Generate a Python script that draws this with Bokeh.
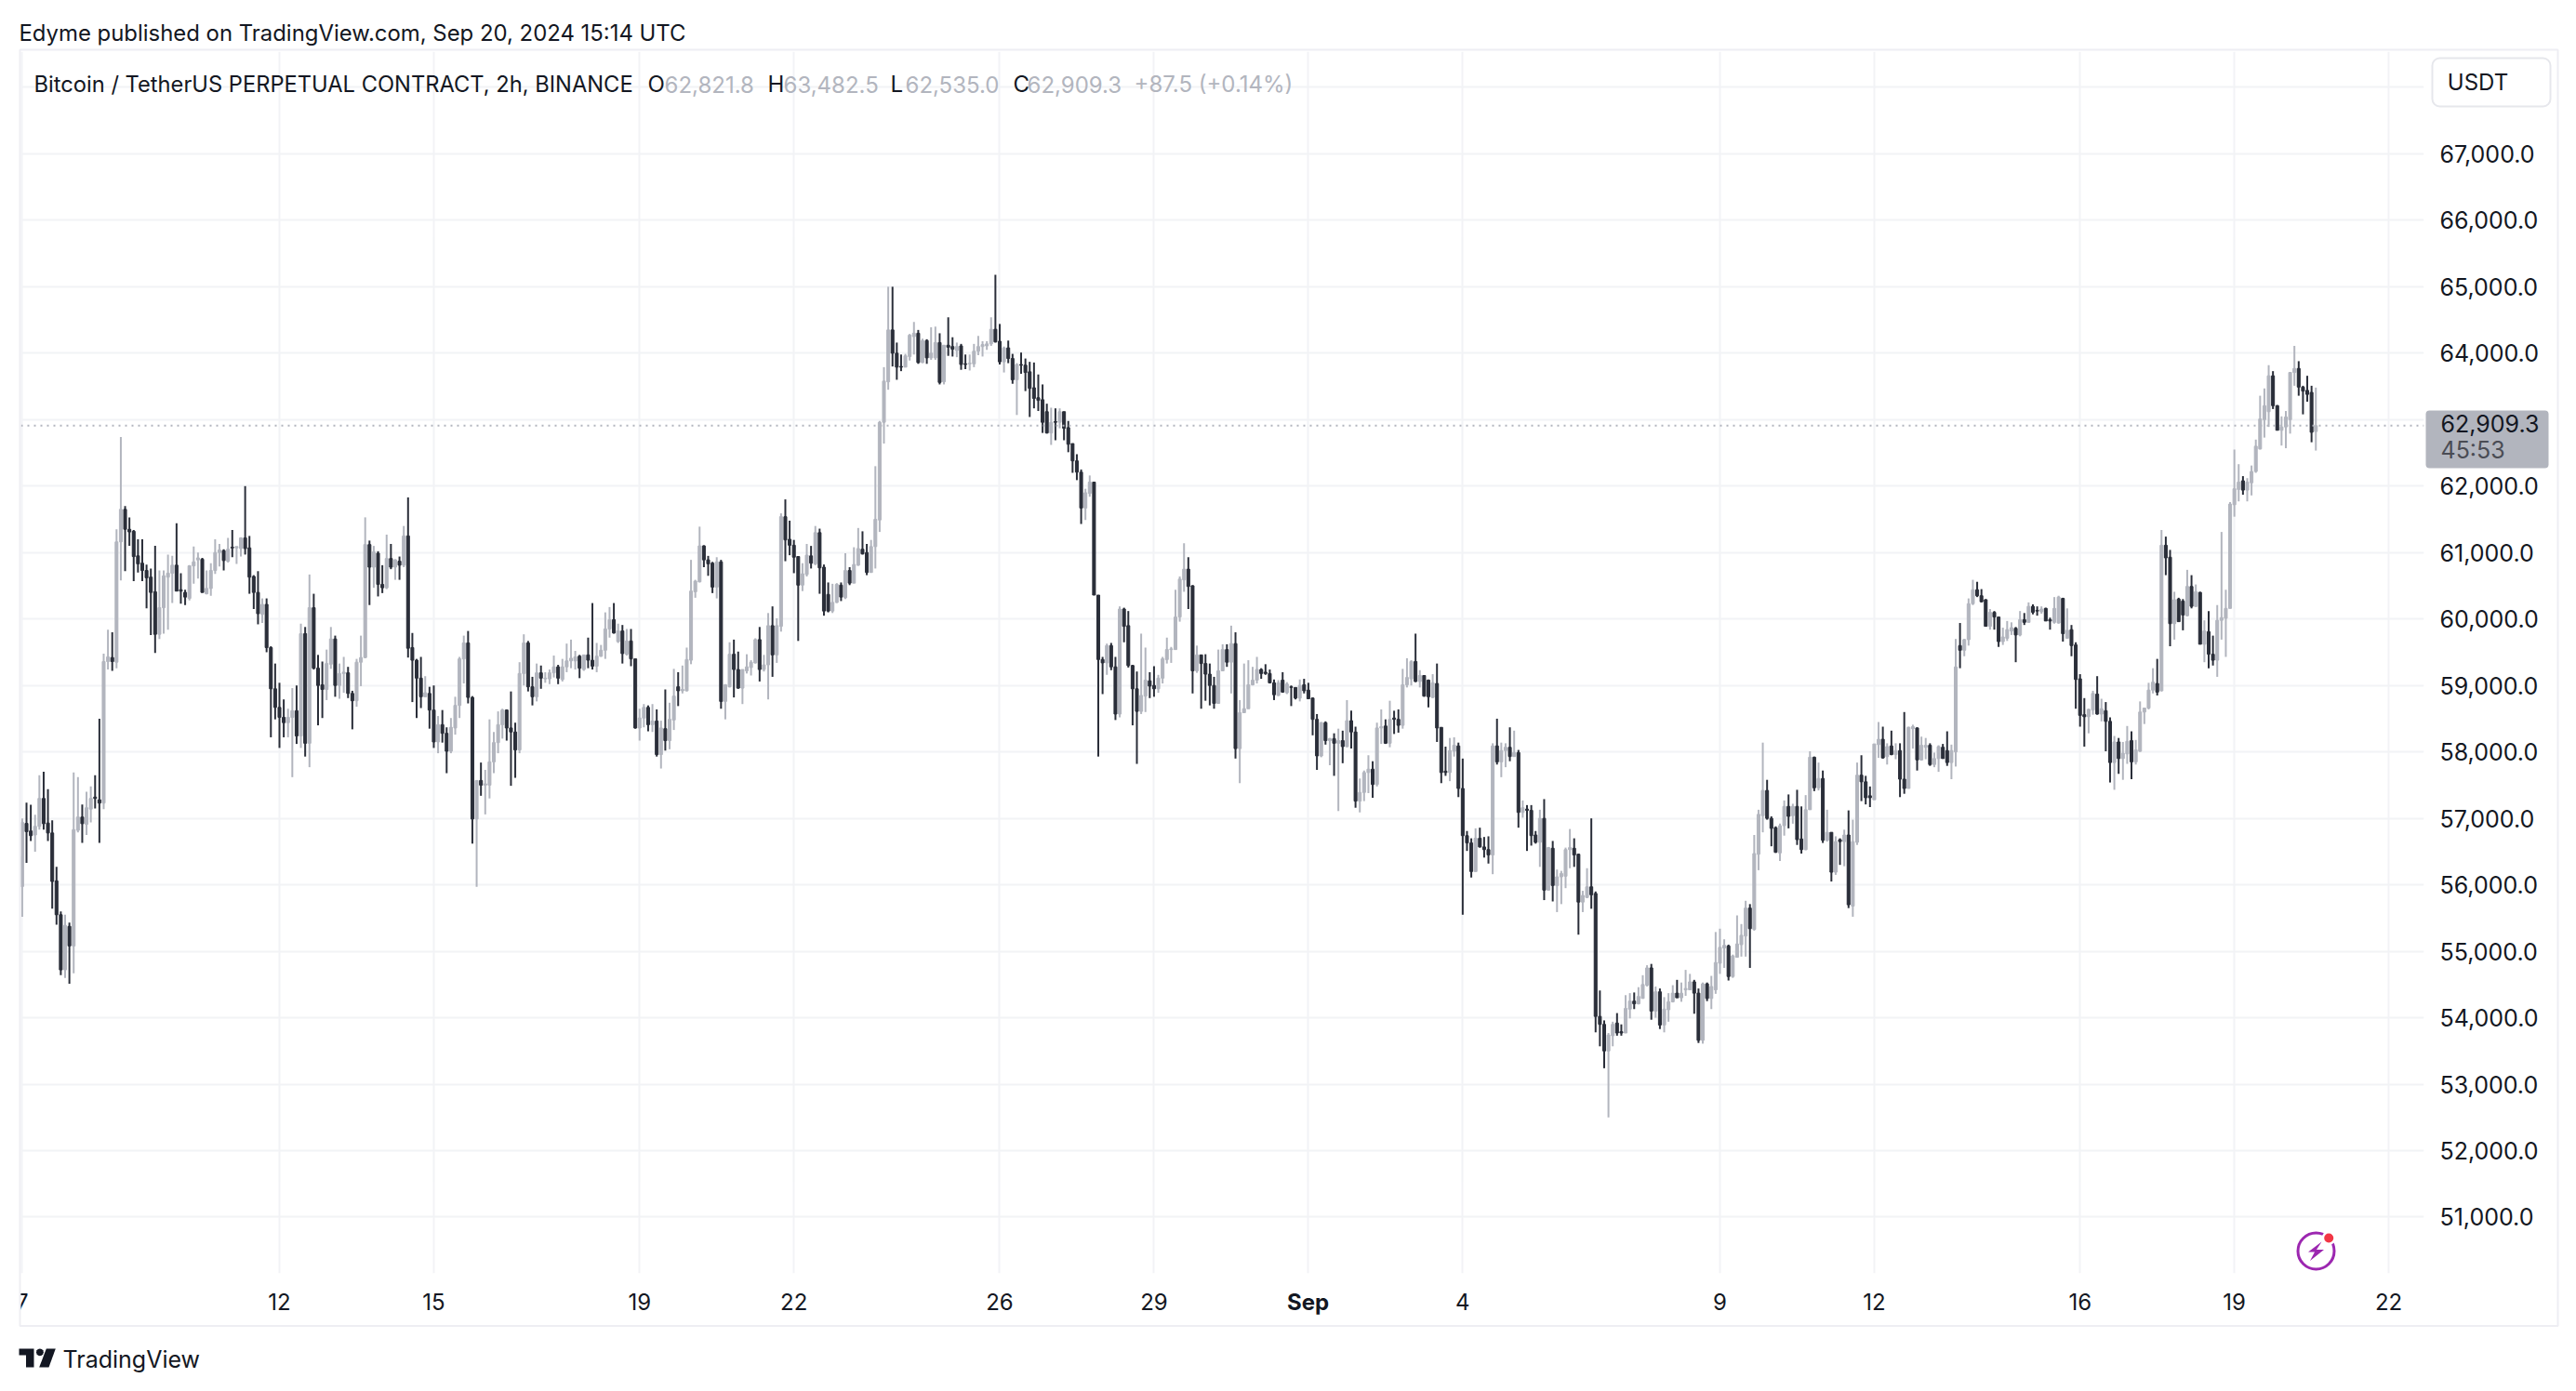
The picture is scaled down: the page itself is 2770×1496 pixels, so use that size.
from bokeh.plotting import figure
from bokeh.embed import file_html
from bokeh.resources import INLINE
from bokeh.models import (Range1d, LinearAxis, FixedTicker, Label, BoxAnnotation, Span, PolyAnnotation, ColumnDataSource)
import math

# U = close above open (grey), D = close below open (dark)
direction = (
 "UUDDUUDDDD" "DUDUUDUUDD" "UUDUUDDDDD" "DDDUUUUDDD" "UUUDUUUUDU" "DUUDDDDUDD" "DDDUUDUDUD" "DDUUDUUDDU"
 "UUDUDDUDUD" "UDDDDUDDUD" "DUUUUDDUDU" "UUUUDDDUUD" "DUDUUUDUUU" "UDUDDUUUUD" "UDUDDUUD"
 "UDUDUUDUUU" "UUDDDUDUUD" "DUUUUDUUDU" "UDDDDUUDUD" "DDUUDUDUUD" "DUUUUUDDDU" "UUDUDUUDUD" "DUDDUUUUUU"
 "DDUDDUDDDD" "DDDUDUDDDD" "DUUDDDUDDU" "DDDDUUDDUU" "UUUUUDDUDD" "DDUUDUDUUU" "UUDDDDUDUD" "DU"
 "DDDDUDUDUD" "UDDUUUDUUD" "UDDUUUDUDD" "UDDDUUDDDD" "UDDDUDUUDU" "DUDDDUDUDU" "UUUDDUUDDD" "DUUDDUUDUU"
 "UDUDUUUDUU" "UDDUDUUUUD" "UUUUDUUUDD" "DUUDUDDUUD" "UDUDUDUDUU" "DDDUUDUDUD" "DUUDUUDUUD" "DU"
 "UDUUUDDDUD" "DUUUDUDUDD" "UDDUUDUDDD" "DUUDUDDUDU" "UDUUUUUDUD" "DUDDUDUDUD" "DUUUUUUDUU" "UUUUDDUUUU" "DDDDU"
)

high = [
 56430,57000,57235,57205,57055,57650,57700,57440,56970,56270,
 55600,55550,55430,57690,57620,57210,57400,57480,57650,58500,
 59480,59840,59800,61350,62740,61700,61530,61340,61200,61200,
 60820,60760,61100,60730,60730,60970,60950,61440,60690,60440,
 60810,61090,61000,60920,60730,60840,61200,61130,61050,61220,
 61340,61090,61230,62000,61250,60660,60720,60310,60310,59590,
 59330,59040,58790,58650,58960,59000,59930,59880,60670,60380,
 59460,59360,59540,59880,59750,59330,59430,59280,58920,59400,
 59750,61530,61180,61100,61020,60810,61270,61130,60900,60940,
 61400,61830,59790,59400,59430,59140,58980,59000,58540,58630,
 58370,58510,58830,59430,59750,59820,58840,57570,57840,57730,
 58490,58300,58610,58650,58640,58910,58440,59350,59770,59670,
 59130,59330,59300,59200,59240,59450,59310,59400,59630,59690,
 59520,59460,59460,59720,60240,59640,59610,60100,60180,60240,
 59930,59910,59850,59850,59400,58650,58720,58700,
 58720,58640,58470,58940,58740,59250,59200,59300,59570,60890,
 60590,61390,61110,60950,60860,60930,60890,59020,59650,59690,
 59510,59240,59470,59380,59710,59880,59460,60090,60190,60010,
 61590,61800,61480,61190,60940,60840,61130,61100,61400,61360,
 60820,60550,60530,60540,60550,60990,60780,61080,61370,61320,
 61130,61190,62300,62980,63790,65000,65000,64160,63980,63990,
 64290,64470,64350,64220,64210,64390,64400,64300,64120,64540,
 64240,64160,64140,63980,63980,64140,64260,64180,64180,64540,
 65180,64440,64100,64190,63990,63850,64010,63920,63870,63860,
 63680,63530,63240,63180,63170,63170,63120,62980,62640,62480,
 62250,61960,62160,62060,60360,59430,59630,59640,59430,60190,
 60170,60120,59310,59210,59780,59570,59200,59290,59160,59430,
 59720,59580,60440,60640,61140,60930,60510,59600,59460,59470,
 59330,59130,59540,59620,59620,59900,59800,58780,59330,59380,
 59280,59430,59260,59320,59240,59090,59080,59200,59050,59000,
 58970,59090,
 59100,59040,58820,58570,58450,58460,58210,58280,58350,58320,
 58780,58620,58380,57600,57720,57950,57860,58440,58640,58490,
 58770,58620,58640,59250,59410,59380,59780,59230,59150,59090,
 59170,59330,58370,58080,58210,58220,58140,57900,56810,56700,
 56850,56860,56720,56730,58130,58500,58140,58130,58370,58320,
 58030,57270,57200,57200,56810,57130,57290,56570,56660,56230,
 56210,56560,56840,56700,56470,55910,56250,57000,55900,54410,
 53960,53770,53940,54070,53900,54340,54370,54380,54460,54640,
 54790,54810,54470,54440,54310,54370,54490,54570,54530,54720,
 54660,54570,54440,54530,54530,54630,55290,55340,55180,55100,
 54950,55540,55410,55760,55710,56750,57130,58140,57580,57030,
 56880,56920,57270,57360,57220,57430,57180,57350,58010,57930,
 57840,57720,57130,56790,56730,56700,56830,57120,56980,57840,
 57950,57640,57480,58120,58450,58380,58130,58320,58130,58130,
 58600,58380,58410,58370,58230,58210,58130,57990,58100,58120,
 58310,58110,
 59700,59940,59700,60310,60590,60560,60450,60300,60150,60120,
 60030,59870,59970,59950,59880,60120,60090,60250,60220,60190,
 60190,60170,60020,60330,60350,60320,60160,59910,59650,59170,
 58810,58650,58920,59140,58800,58750,58520,58240,58210,58150,
 58390,58310,58180,58760,58660,59040,59260,59400,61340,61240,
 61040,60410,60320,60300,60740,60660,60520,60410,59980,60120,
 59750,60210,61310,60440,61760,62550,62330,62150,62120,62310,
 62700,63360,63470,63820,63730,63220,63050,63130,63710,64110,
 63880,63510,63660,63510,63482.5,
]

body_top = [
 56430,56940,56925,56810,56880,57300,57300,56930,56780,56060,
 55550,55390,55375,56830,57020,57020,57160,57300,57320,57280,
 59360,59430,59420,61160,61650,61650,61350,61320,60950,60840,
 60730,60630,60410,60170,60650,60690,60810,60810,60440,60400,
 60800,60860,60920,60900,60460,60730,61000,61040,61030,61050,
 61080,61090,61220,61220,61070,60640,60400,60220,60220,59570,
 58950,58670,58520,58520,58620,58620,59780,59780,60170,60170,
 59260,59010,59330,59700,59700,59180,59200,59190,58880,59350,
 59420,61120,61120,61010,60990,60520,60910,60910,60890,60870,
 61250,61250,59570,59380,59110,58890,58880,58630,58410,58410,
 58280,58370,58700,59400,59640,59640,58820,57570,57570,57520,
 57850,58140,58410,58630,58630,58360,58300,59180,59640,59640,
 58980,59190,59190,59110,59190,59280,59280,59280,59370,59410,
 59430,59440,59460,59460,59380,59440,59530,59850,59990,59990,
 59820,59820,59670,59670,59400,58510,58670,58670,
 58465,58465,58360,58350,58490,58840,58980,58940,59390,60420,
 60570,61100,61100,60890,60840,60860,60860,59010,59470,59470,
 59240,59240,59280,59350,59690,59690,59310,59900,59900,59900,
 61540,61540,61200,61110,60940,60680,60960,60950,61300,61300,
 60780,60370,60250,60520,60510,60730,60730,60820,61060,61050,
 61000,61090,61500,62960,63580,64350,64350,64000,63800,63960,
 64270,64300,64300,64190,64190,64000,64160,64160,64120,64120,
 64100,64100,64110,63840,63850,64030,64100,64130,64140,64360,
 64360,64180,64080,64080,63920,63830,63830,63820,63720,63480,
 63330,63300,63120,62960,62970,63120,63120,62880,62640,62380,
 62210,61900,62060,62060,60360,59390,59600,59600,59280,60150,
 60150,59900,59300,58950,58850,59080,59070,59000,59110,59400,
 59540,59550,60030,60600,60750,60750,60500,59460,59460,59330,
 59170,59000,59220,59540,59540,59630,59630,58590,58650,59010,
 59080,59240,59240,59200,59180,59040,59040,59080,59020,58980,
 58970,59000,
 59010,58930,58810,58490,58440,58440,58200,58200,58170,58170,
 58470,58470,58300,57390,57690,57740,57740,58360,58380,58390,
 58490,58510,58490,59010,59120,59360,59360,59150,59150,59080,
 59040,59030,58370,57710,58020,58100,58090,57450,56740,56630,
 56700,56700,56570,56530,58090,58090,58020,58070,58070,57990,
 57990,57160,57140,57120,56750,57000,57000,56560,56550,56120,
 56170,56530,56560,56550,56460,55840,55970,55970,55870,54020,
 53900,53740,53900,53920,53790,54140,54250,54250,54320,54500,
 54750,54750,54390,54390,54130,54240,54370,54370,54370,54440,
 54540,54540,54370,54510,54510,54470,54830,55060,55090,55080,
 54930,55110,55240,55650,55650,56470,57060,57420,57420,57000,
 56860,56890,57180,57180,57180,57180,56690,57130,57920,57920,
 57600,57600,56790,56790,56650,56680,56750,56750,56650,57650,
 57650,57550,57340,58120,58190,58190,58080,58090,58020,58020,
 57590,58370,58380,58360,58100,58100,58100,57900,58080,58070,
 58020,58020,
 59280,59600,59690,60230,60440,60440,60350,60290,60100,60100,
 60030,59730,59840,59870,59860,59990,59990,60190,60190,60130,
 60150,60160,59990,60160,60330,60310,59830,59840,59610,59100,
 58560,58640,58880,58870,58650,58620,58460,58150,58150,57980,
 58160,58170,58030,58600,58660,58930,59050,59030,61110,61110,
 60930,60290,60300,60270,60490,60490,60410,60400,59820,59810,
 59470,59980,60020,60160,61730,61960,62060,62080,62060,62220,
 62600,63010,63210,63660,63660,63210,62890,63040,63710,63770,
 63770,63490,63440,63410,62909.3,
]

body_bottom = [
 55975,55975,56800,56740,56750,56880,56920,56780,56050,55550,
 54720,54720,55080,55080,56820,56920,56910,57140,57300,57230,
 57230,59360,59360,59350,61160,61350,61310,60940,60830,60730,
 60620,60400,59770,59770,60170,60630,60690,60420,60420,60330,
 60310,60800,60890,60400,60380,60460,60730,61000,60880,60870,
 61070,61070,61060,61060,60630,60400,60080,60070,59570,58950,
 58670,58520,58440,58440,58520,58240,58240,58130,58130,59260,
 59000,58940,58940,59320,59000,59000,59180,58880,58770,58770,
 59350,59420,60780,60780,60520,60470,60470,60780,60780,60810,
 60810,59560,59380,59110,58830,58830,58630,58150,58150,58280,
 58010,58010,58360,58700,59400,58820,56990,56990,57500,57500,
 57500,57850,58140,58410,58360,58300,58030,58030,59180,58980,
 58830,58830,59110,59100,59100,59190,59110,59090,59280,59370,
 59370,59260,59240,59380,59290,59290,59440,59530,59850,59790,
 59660,59480,59470,59400,58360,58360,58510,58410,
 58410,57960,57960,58170,58170,58480,58920,58920,58920,59380,
 60410,60560,60890,60830,60480,60480,58760,58760,58980,59240,
 58960,58960,59220,59270,59340,59240,59240,59310,59460,59460,
 59890,61190,61110,60930,60510,60510,60670,60840,60830,60770,
 60120,60120,60120,60250,60330,60320,60540,60540,60810,60980,
 60700,60700,61090,61490,62960,63570,64000,63790,63790,63790,
 63950,64250,63860,63860,63930,63930,63930,63560,63570,64090,
 64060,64040,63830,63830,63840,63840,64030,64100,64110,64140,
 64170,63870,63870,63920,63600,63600,63820,63710,63470,63320,
 63290,62960,62800,62800,62960,62960,62870,62630,62380,62210,
 61670,61670,61890,60360,59390,59340,59340,59280,58570,58570,
 59890,59300,58950,58610,58610,58840,58990,58950,58950,59110,
 59390,59540,59540,60030,60590,60490,59220,59220,59330,59170,
 59000,58730,58730,59220,59350,59350,58050,58050,58590,58650,
 59010,59080,59180,59180,59040,58860,58850,58900,58890,58970,
 58810,58810,
 58920,58800,58490,57940,57940,58170,58170,58130,58130,58080,
 58080,58300,57260,57260,57390,57690,57510,57510,58360,58130,
 58130,58490,58400,58400,59010,59100,59060,59060,58840,58830,
 58820,58360,57690,57690,57690,58010,57450,56740,56630,56200,
 56200,56570,56530,56450,56450,57850,57850,58020,57930,57930,
 57090,57090,57120,56740,56640,56640,55920,55920,55990,55990,
 56120,56130,56530,56450,55740,55740,55810,55850,54020,53900,
 53500,53500,53730,53770,53770,53770,54130,54210,54210,54290,
 54490,54100,54100,53890,53890,54120,54240,54300,54300,54420,
 54420,54370,53660,53660,54290,54290,54420,54820,55050,54620,
 54620,54910,55100,55230,55340,55330,56460,57040,57000,56850,
 56490,56480,56890,57030,57040,56680,56530,56530,57130,57460,
 57460,56670,56670,56190,56190,56650,56650,55700,55680,56640,
 57550,57310,57310,57280,58110,57910,57930,57960,57960,57590,
 57450,57450,58350,57880,57880,58070,57810,57810,57900,57900,
 57840,57840,
 58000,59530,59530,59690,60230,60350,60260,59890,59890,60030,
 59660,59660,59710,59820,59760,59760,59950,59950,60100,60120,
 60110,59970,59970,59950,59940,59780,59710,59600,59090,58550,
 58530,58530,58630,58570,58570,58460,57840,57840,57900,57900,
 57970,57850,57850,58010,58600,58660,58930,58900,58920,60920,
 59930,59930,59960,60060,60050,60190,60190,59620,59620,59470,
 59380,59380,59980,60010,60160,61720,61950,61940,61940,62050,
 62220,62560,63000,63120,63210,62840,62840,62890,63000,63710,
 63490,63430,63380,62810,62821.8,
]

low = [
 55975,55520,56330,56660,56500,56830,56830,56660,55640,55400,
 54640,54600,54510,54670,56790,56630,56750,56940,57150,56630,
 57140,59240,59220,59260,60580,60720,61100,60570,60700,60570,
 60160,59760,59490,59700,59780,59840,60240,60420,60230,60210,
 60280,60530,60610,60400,60370,60350,60680,60790,60730,60850,
 60930,60830,60940,60970,60380,60150,59920,59940,59500,58220,
 58490,58060,58220,58220,57620,58120,58060,57930,57770,59240,
 58400,58510,58780,59250,58830,58800,58890,58810,58340,58680,
 58990,59410,60210,60470,60340,60390,60450,60750,60590,60590,
 60780,59420,58750,58510,58660,58830,58350,58060,57980,58140,
 57680,57980,58260,58510,59030,58730,56620,55970,57340,57060,
 57300,57680,57980,58200,58170,57490,57610,57980,59000,58910,
 58700,58760,58950,59040,59020,59120,59020,59060,59200,59260,
 59240,59110,59220,59260,59240,59200,59430,59400,59720,59780,
 59640,59330,59450,59290,58350,58170,58370,58310,
 58300,57930,57750,58020,58040,58330,58690,58880,58910,59320,
 60320,60550,60780,60650,60390,60310,58650,58490,58970,58820,
 58950,58720,59180,59150,59330,59060,59210,58790,59130,59340,
 59810,60870,60960,60690,59670,60420,60640,60760,60810,60380,
 60050,60100,60090,60240,60270,60300,60510,60540,60800,60970,
 60660,60700,60760,61310,62640,63450,63800,63600,63730,63790,
 63890,63980,63840,63850,63840,63900,63900,63530,63530,63960,
 63950,63940,63750,63760,63740,63790,63970,63950,64050,64110,
 64160,63830,63710,63850,63540,63070,63690,63430,63040,63170,
 63130,62800,62790,62620,62690,62870,62690,62510,62200,62090,
 61430,61490,61840,60360,57930,58870,59160,59230,58480,58520,
 59650,59270,58400,57820,58570,58600,58810,58830,58890,59030,
 59330,59340,59540,59960,60410,60150,58880,59190,58650,58770,
 58700,58650,58730,59220,59280,58880,57900,57530,58590,58650,
 59000,59030,59100,59160,59030,58780,58840,58890,58870,58690,
 58790,58760,
 58880,58800,58250,57730,57920,58110,57800,57640,57110,57830,
 58070,58050,57160,57090,57260,57380,57310,57480,58120,58120,
 58070,58270,58290,58350,58970,59000,59050,58970,58830,58670,
 58810,58150,57530,57640,57560,57930,57320,55550,56510,56110,
 56200,56560,56410,56320,56160,57810,57620,57770,57860,57930,
 56860,57010,56510,56590,56620,56270,55770,55920,55750,55590,
 55710,55950,56250,56270,55250,55590,55800,55640,53780,53570,
 53240,52500,53570,53730,53730,53770,53990,54130,54200,54290,
 54470,53970,54000,53830,53780,53940,54230,54300,54240,54330,
 54420,54060,53620,53610,54250,54130,54360,54660,54750,54560,
 54600,54910,54920,54920,54750,55310,56220,56790,56980,56580,
 56480,56360,56740,56850,56920,56600,56470,56520,57130,57410,
 57420,56630,56650,56050,56150,56300,56280,55650,55520,56600,
 57260,57210,57170,57280,57910,57900,57810,57950,57890,57320,
 57370,57450,58050,57720,57870,57890,57790,57770,57700,57900,
 57790,57590,
 57780,59260,59440,59600,60210,60330,60250,59890,59840,59840,
 59580,59610,59670,59760,59350,59740,59910,59950,60070,60050,
 60080,59970,59840,59930,59930,59660,59710,59440,58650,58380,
 58080,58280,58560,58560,58460,58010,57540,57430,57670,57580,
 57820,57590,57810,58000,58420,58640,58880,58850,58910,60660,
 59590,59690,59960,59830,60040,60160,60180,59620,59350,59260,
 59300,59130,59690,59430,60160,61540,61770,61870,61770,61860,
 62200,62550,62730,62890,63160,62840,62610,62570,62790,63510,
 63360,63080,63270,62660,62535,
]

price_ticks = [51000,52000,53000,54000,55000,56000,57000,58000,59000,60000,61000,62000,63000,64000,65000,66000,67000,68000]
hidden_price_ticks = [63000, 68000]
date_ticks_days = [0,5,8,12,15,19,22,25,28,33,36,40,43,46]
date_labels = ["7","12","15","19","22","26","29","","4","9","12","16","19","22"]
bars_per_day = 12
last_open, last_high, last_low, last_close = 62821.8, 63482.5, 62535.0, 62909.3

assert len(direction) == len(high) == len(body_top) == len(body_bottom) == len(low)

PX0, PXS = 23.4, 4.61
def X(px): return (px - PX0) / PXS
def Y(py): return 62000 + (522.3 - py) / 0.07147

W, H = 2754, 1480
L, R, T, B = 22, 2606, 55, 1369
p = figure(width=W, height=H, output_backend="svg", toolbar_location=None,
           x_range=Range1d(X(L), X(R)), y_range=Range1d(Y(B), Y(T)),
           x_axis_location=None, y_axis_location=None,
           min_border_left=L, min_border_right=W-R, min_border_top=T, min_border_bottom=H-B)
p.outline_line_color = None
p.background_fill_color = "white"
p.border_fill_color = "white"

INK = "#131722"
GREY = "#b2b5be"
DARK = "#2a2e39"
GRID = "#f2f3f6"
FRAME = "#eeeef3"
FONT = "Inter"

xticks = [d*bars_per_day for d in date_ticks_days]
xaxis = LinearAxis(ticker=FixedTicker(ticks=xticks),
                   major_label_overrides={t: l for t, l in zip(xticks, date_labels)},
                   axis_line_color=None, major_tick_line_color=None, minor_tick_line_color=None,
                   major_label_text_font=FONT, major_label_text_font_size="24px",
                   major_label_text_color=INK, major_label_standoff=15)
p.add_layout(xaxis, "below")
yaxis = LinearAxis(ticker=FixedTicker(ticks=price_ticks),
                   major_label_overrides={t: ("" if t in hidden_price_ticks else f"{t:,.1f}") for t in price_ticks},
                   axis_line_color=None, major_tick_line_color=None, minor_tick_line_color=None,
                   major_label_text_font=FONT, major_label_text_font_size="25px",
                   major_label_text_color=INK, major_label_standoff=11)
p.add_layout(yaxis, "right")
p.xgrid.ticker = FixedTicker(ticks=xticks)
p.ygrid.ticker = FixedTicker(ticks=price_ticks)
p.xgrid.grid_line_color = GRID; p.ygrid.grid_line_color = GRID
p.xgrid.grid_line_width = 2; p.ygrid.grid_line_width = 2

idx = [i-1 for i in range(len(high))]
colors = [GREY if d == "U" else DARK for d in direction]
src = ColumnDataSource(dict(x=idx, high=high, low=low, top=body_top, bottom=body_bottom, color=colors))
p.segment("x", "high", "x", "low", source=src, line_color="color", line_width=2)
p.vbar("x", 0.66, "bottom", "top", source=src, fill_color="color", line_color="color", line_width=1)

p.add_layout(Span(location=last_close, dimension="width", line_color=GREY, line_width=2, line_dash="2 5"))

p.scatter([X(2490)], [Y(1345)], size=39, marker="circle", fill_color=None, line_color="#9c27b0", line_width=3)
p.scatter([X(2503.7)], [Y(1331)], size=15, marker="circle", fill_color="white", line_color=None)
p.scatter([X(2503.7)], [Y(1331)], size=10, marker="circle", fill_color="#f23645", line_color=None)
bolt = [(2496,1335),(2481.5,1346),(2488.5,1346),(2483.5,1355.5),(2498.5,1343.5),(2490.5,1343.5)]
p.patch([X(a) for a, b in bolt], [Y(b) for a, b in bolt], fill_color="#9c27b0", line_color=None)

# transparent page-sized layer on top of the chart, for the furniture around the plot area
q = figure(width=W, height=H, output_backend="svg", toolbar_location=None,
           x_range=Range1d(0, W), y_range=Range1d(H, 0), x_axis_location=None, y_axis_location=None,
           min_border=0, styles={"margin-top": f"-{H}px"})
q.outline_line_color = None
q.background_fill_alpha = 0
q.border_fill_alpha = 0
q.grid.visible = False

def text(t, px, py, size=24, color=INK, align="left", style="normal"):
    q.add_layout(Label(x=px, y=py, text=t, text_font=FONT, text_font_size=f"{size}px",
                       text_color=color, text_align=align, text_baseline="middle", text_font_style=style))

def box(l, r, t, b, fill="white", line=None, lw=2, radius=0, alpha=1.0):
    q.add_layout(BoxAnnotation(left=l, right=r, top=t, bottom=b,
                               fill_color=fill, fill_alpha=alpha, line_color=line, line_width=lw,
                               line_alpha=1.0 if line else 0, border_radius=radius))

box(8, 21, 1372, 1424)
box(21, 2750, 53, 1425.5, fill=None, line=FRAME, alpha=0)

box(2608, 2740, 441, 503, fill=GREY, radius=4)
text(f"{last_close:,.1f}", 2624, 455, size=25)
text("45:53", 2624, 483, size=25, color="#4a4c54")

box(2615, 2742, 62, 114, fill="white", line="#e6e7ec", radius=8)
text("USDT", 2664, 88, align="center")

text("Sep", 1406, 1400, align="center", style="bold")

text("Edyme published on TradingView.com, Sep 20, 2024 15:14 UTC", 20, 35, size=23.9)
text("Bitcoin / TetherUS PERPETUAL CONTRACT, 2h, BINANCE", 36, 90, size=23.7)
for lab, lx, val, vx in [("O", 696, last_open, 714), ("H", 825, last_high, 842), ("L", 957, last_low, 973), ("C", 1089, last_close, 1104)]:
    text(lab, lx, 90)
    text(f"{val:,.1f}", vx, 90, color=GREY)
text(f"+{last_close-last_open:.1f} (+{(last_close-last_open)/last_open*100:.2f}%)", 1219, 90, color=GREY)

def poly(pts, color=INK):
    q.add_layout(PolyAnnotation(xs=[a for a, b in pts], ys=[b for a, b in pts],
                                fill_color=color, fill_alpha=1, line_color=color, line_width=0))
poly([(20,1450),(36,1450),(36,1470),(27.5,1470),(27.5,1457),(20,1457)])
poly([(42.4+3.9*math.cos(a/12*math.tau), 1453.8+3.9*math.sin(a/12*math.tau)) for a in range(12)])
poly([(49.3,1450),(59.3,1450),(52,1470),(41.7,1470)])
text("TradingView", 67, 1461, size=25)

open("out.html", "w").write(file_html([p, q], INLINE))
